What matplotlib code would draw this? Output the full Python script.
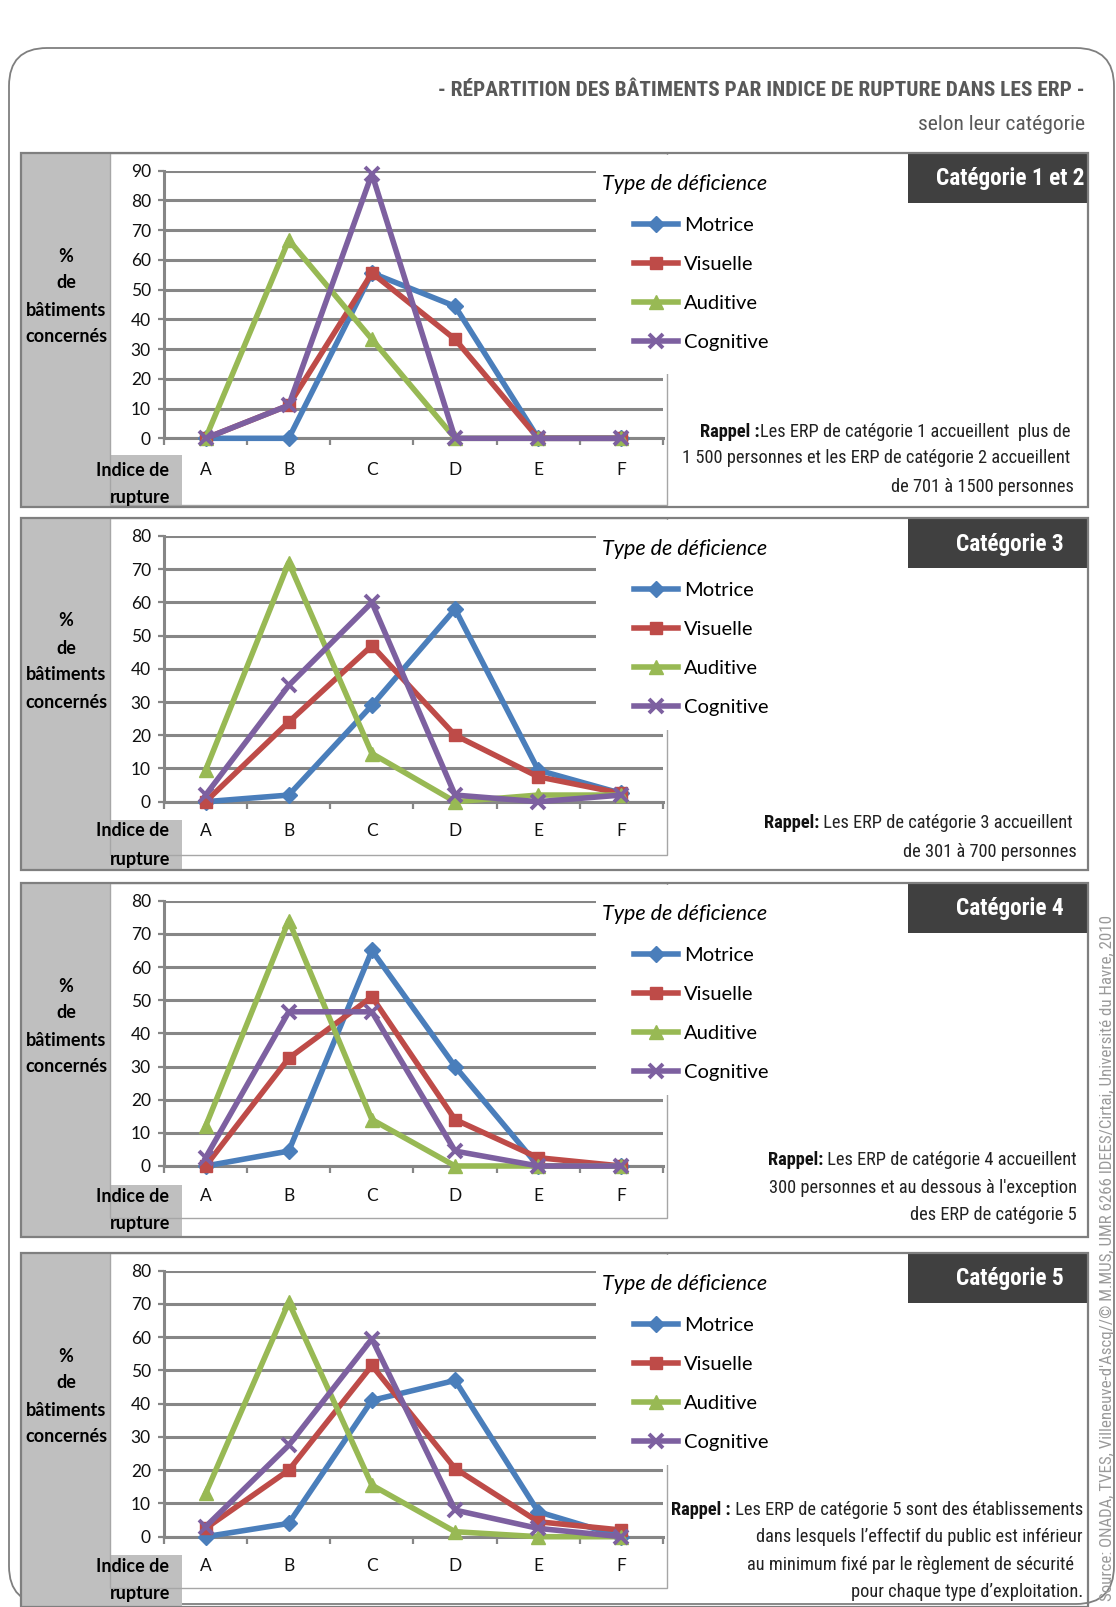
import matplotlib
matplotlib.use('Agg')
import matplotlib.pyplot as plt
from matplotlib import font_manager as fm
from matplotlib.patches import Rectangle, FancyBboxPatch
from matplotlib.transforms import Affine2D

# ---- data ----
categories = ['A', 'B', 'C', 'D', 'E', 'F']
series_names = ['Motrice', 'Visuelle', 'Auditive', 'Cognitive']

# Catégorie 1 et 2
motrice_c12 = [0, 0, 55.6, 44.4, 0, 0]
visuelle_c12 = [0, 11.1, 55.6, 33.3, 0, 0]
auditive_c12 = [0, 66.7, 33.3, 0, 0, 0]
cognitive_c12 = [0, 11.1, 88.9, 0, 0, 0]

# Catégorie 3
motrice_c3 = [0, 2, 29, 58, 9.5, 2.5]
visuelle_c3 = [0, 24, 47, 20, 7.5, 2.5]
auditive_c3 = [9.5, 72, 14.5, 0, 2, 2]
cognitive_c3 = [2, 35, 60, 2, 0, 2]

# Catégorie 4
motrice_c4 = [0, 4.5, 65, 30, 0, 0]
visuelle_c4 = [0, 32.5, 51, 14, 2.5, 0]
auditive_c4 = [12, 74, 14, 0, 0, 0]
cognitive_c4 = [2.5, 46.5, 46.5, 4.5, 0, 0]

# Catégorie 5
motrice_c5 = [0, 4, 41, 47, 7.5, 0]
visuelle_c5 = [2.5, 20, 51.5, 20.5, 4.5, 2]
auditive_c5 = [13, 70.5, 15.5, 1.5, 0, 0]
cognitive_c5 = [3, 27.5, 59.5, 8, 2.5, 0]

panel_titles = ['Catégorie 1 et 2', 'Catégorie 3', 'Catégorie 4', 'Catégorie 5']
panel_ymax = [90, 80, 80, 80]

rappel_c12 = [('Rappel :', 'Les ERP de catégorie 1 accueillent  plus de'),
              ('', '1 500 personnes et les ERP de catégorie 2 accueillent'),
              ('', 'de 701 à 1500 personnes')]
rappel_c3 = [('Rappel:', ' Les ERP de catégorie 3 accueillent'),
             ('', 'de 301 à 700 personnes')]
rappel_c4 = [('Rappel:', ' Les ERP de catégorie 4 accueillent'),
             ('', "300 personnes et au dessous à l'exception"),
             ('', 'des ERP de catégorie 5')]
rappel_c5 = [('Rappel :', ' Les ERP de catégorie 5 sont des établissements'),
             ('', 'dans lesquels l\u2019effectif du public est inférieur'),
             ('', 'au minimum fixé par le règlement de sécurité '),
             ('', 'pour chaque type d\u2019exploitation.')]

title = '- RÉPARTITION DES BÂTIMENTS PAR INDICE DE RUPTURE DANS LES ERP -'
subtitle = 'selon leur catégorie'
source = ("Source: ONADA, TVES, Villeneuve-d'Ascq//\u00a9 M.MUS, UMR 6266 IDEES/Cirtai, "
          "Université du Havre, 2010")

# ---- fonts ----
names = {f.name for f in fm.fontManager.ttflist}


def pick(*cands):
    for c in cands:
        if c in names:
            return c
    return 'DejaVu Sans'


NARROW = pick('Liberation Sans Narrow', 'Roboto Condensed', 'Open Sans Condensed', 'Liberation Sans')
BODY = pick('Lato', 'Open Sans', 'DejaVu Sans')
plt.rcParams['font.family'] = [BODY, 'DejaVu Sans']

COLORS = ['#4A7EBB', '#BE4B48', '#98B954', '#7D60A0']
MARKERS = ['D', 's', '^', 'x']
MSIZES = [8, 9, 10, 10]
GRID = '#868686'

W, H = 1116, 1607
fig = plt.figure(figsize=(W / 100, H / 100), dpi=100)
fig.patch.set_facecolor('white')
# pixel coordinates, origin top-left
T = Affine2D().scale(1.0 / W, -1.0 / H).translate(0, 1) + fig.transFigure
renderer = fig.canvas.get_renderer()


def rect(x0, y0, x1, y1, **kw):
    r = Rectangle((x0, y0), x1 - x0, y1 - y0, transform=T, **kw)
    fig.add_artist(r)
    return r


def text_w(s, size, weight='normal', family=NARROW):
    t = fig.text(0, 0, s, fontsize=size, weight=weight, family=family)
    w = t.get_window_extent(renderer).width
    t.remove()
    return w


# outer rounded frame
frame = FancyBboxPatch((9, 48), 1105, 1556, boxstyle='round,pad=0,rounding_size=38',
                       transform=T, fill=False, edgecolor='#7F7F7F', lw=1.3, zorder=1)
fig.add_artist(frame)

# title
t = fig.text(1085, 90, title, ha='right', va='center', color='#595959',
             family=NARROW, weight='bold', fontsize=16, transform=T)
t.set_fontsize(16 * 647 / t.get_window_extent(renderer).width)
t = fig.text(1085, 125, subtitle, ha='right', va='center', color='#595959',
             family=NARROW, fontsize=13, transform=T)
t.set_fontsize(13 * 167 / t.get_window_extent(renderer).width)

# source (vertical)
t = fig.text(1107, 1601, source, ha='center', va='bottom', rotation=90, color='#9A9A9A',
             family=NARROW, fontsize=11, transform=T)
t.set_fontsize(11 * 687 / t.get_window_extent(renderer).height)

# ---- layout of the four panels (pixels) ----
panel_top = [153, 518, 883, 1253]
panel_bot = [507, 870, 1237, 1607]
chart_bot = [505, 855, 1218, 1588]
idx_box_top = [455, 820, 1185, 1555]
ax_top = [170.7, 536, 900.7, 1270.7]
ax_zero = [438.3, 801.7, 1166, 1536.7]
tick_row = [472, 833, 1198, 1568]
AX_X0, AX_X1 = 164, 663

panel_data = [
    [motrice_c12, visuelle_c12, auditive_c12, cognitive_c12],
    [motrice_c3, visuelle_c3, auditive_c3, cognitive_c3],
    [motrice_c4, visuelle_c4, auditive_c4, cognitive_c4],
    [motrice_c5, visuelle_c5, auditive_c5, cognitive_c5],
]
rappels = [rappel_c12, rappel_c3, rappel_c4, rappel_c5]
rappel_pos = [
    [(1070, 432), (1070, 458), (1074, 487)],
    [(1073, 823), (1077, 852)],
    [(1077, 1160), (1077, 1188), (1077, 1215)],
    [(1083, 1510), (1083, 1537), (1078, 1565), (1083, 1592)],
]

# font sizes for condensed texts, fitted on the reference widths
cat_fs = 16 * 108 / text_w('Catégorie 3', 16, 'bold')
rap_fs = 13 * 410 / (text_w('Rappel :', 13, 'bold') +
                     text_w(' Les ERP de catégorie 5 sont des établissements', 13))

for p in range(4):
    top, bot, zero = panel_top[p], panel_bot[p], ax_zero[p]
    ymax = panel_ymax[p]

    # grey label strip and "Indice de rupture" box
    rect(21, top, 110, bot, facecolor='#BFBFBF', edgecolor='none', zorder=1)
    rect(21, idx_box_top[p], 182, bot, facecolor='#BFBFBF', edgecolor='none', zorder=1)
    # chart area outline
    rect(110, top, 667, chart_bot[p], fill=False, edgecolor='#A6A6A6', lw=1, zorder=1.5)

    ax = fig.add_axes([AX_X0 / W, 1 - zero / H, (AX_X1 - AX_X0) / W, (zero - ax_top[p]) / H])
    ax.set_facecolor('none')
    for name, vals, c, m, ms in zip(series_names, panel_data[p], COLORS, MARKERS, MSIZES):
        ax.plot(range(len(categories)), vals, color=c, lw=4, marker=m, ms=ms,
                mfc=c, mec=c, mew=2.8 if m == 'x' else 1, clip_on=False, zorder=3,
                label=name, solid_joinstyle='round')
    ax.set_xlim(-0.5, len(categories) - 0.5)
    ax.set_ylim(0, ymax)
    ax.set_yticks(range(0, ymax + 1, 10))
    ax.set_xticks(range(len(categories)))
    ax.set_xticklabels(categories)
    ax.set_xticks([i - 0.5 for i in range(len(categories) + 1)], minor=True)
    ax.yaxis.grid(True, color=GRID, lw=2.2)
    ax.set_axisbelow(True)
    for s in ('top', 'right'):
        ax.spines[s].set_visible(False)
    for s in ('left', 'bottom'):
        ax.spines[s].set_color(GRID)
        ax.spines[s].set_linewidth(2.2)
    ax.tick_params(axis='y', length=4.5, width=1.6, color=GRID, pad=5, labelsize=12.5,
                   labelcolor='#111111')
    ax.tick_params(axis='x', which='major', length=0,
                   pad=(tick_row[p] - zero - 10) / 1.389, labelsize=12.5, labelcolor='#111111')
    ax.tick_params(axis='x', which='minor', length=5, width=1.6, color=GRID)

    # white box behind legend (hides right part of upper gridlines)
    y20 = zero - (zero - ax_top[p]) * 20 / ymax
    rect(596, top + 2, 760, y20 - 5, facecolor='white', edgecolor='none', zorder=2)

    fig.text(602, top + 31, 'Type de déficience', style='italic', fontsize=15.5,
             ha='left', va='center', transform=T, zorder=6)
    fig.legend(handles=ax.get_lines(), loc='center left', bbox_to_anchor=(634, top + 131),
               bbox_transform=T, frameon=False, fontsize=14.5, handlelength=2.2,
               handletextpad=0.3, labelspacing=1.1, borderpad=0, borderaxespad=0)

    # y label
    for txt, dy in zip(['%', 'de', 'bâtiments', 'concernés'], [103, 130, 157, 184]):
        fig.text(66, top + dy, txt, ha='center', va='center', weight='bold', fontsize=13,
                 transform=T, zorder=4)
    fig.text(169, tick_row[p] - 2, 'Indice de', ha='right', va='center', weight='bold',
             fontsize=13, transform=T, zorder=4)
    fig.text(170, tick_row[p] + 26, 'rupture', ha='right', va='center', weight='bold',
             fontsize=13, transform=T, zorder=4)

    # dark category box
    rect(908, top, 1088, top + 50, facecolor='#404040', edgecolor='none', zorder=3)
    fig.text(1010, top + 26, panel_titles[p], ha='center', va='center', color='white',
             weight='bold', family=NARROW, fontsize=cat_fs, transform=T, zorder=4)

    # panel border
    rect(21, top, 1088, bot, fill=False, edgecolor='#7F7F7F', lw=1.6, zorder=3)

    # reminder text
    for (bold, reg), (xr, y) in zip(rappels[p], rappel_pos[p]):
        tr = fig.text(xr, y, reg, ha='right', va='center', family=NARROW, fontsize=rap_fs,
                      color='#222222', transform=T, zorder=4)
        if bold:
            w = tr.get_window_extent(renderer).width
            fig.text(xr - w, y, bold, ha='right', va='center', family=NARROW, weight='bold',
                     fontsize=rap_fs, color='#111111', transform=T, zorder=4)

fig.savefig('out.png', dpi=100, facecolor='white')
